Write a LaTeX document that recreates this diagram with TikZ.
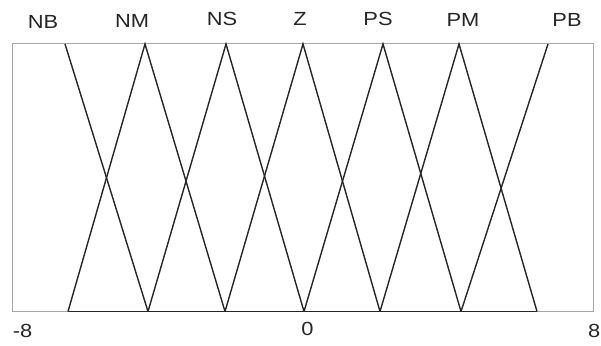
\documentclass[tikz,border=0pt]{standalone}
\usepackage{fontspec}
\usepackage{graphicx}
\setmainfont{Liberation Sans}
\tikzset{
  lab/.style={inner sep=0pt, font=\fontsize{19}{19}\selectfont, text=black!85},
  mf/.style={line width=1.4pt, draw=black!85, line join=miter},
  frame/.style={line width=1pt, draw=black!35}
}
\newcommand{\widetxt}[1]{\scalebox{1.15}[1]{#1}}
\begin{document}
\begin{tikzpicture}[x=1pt,y=1pt]
\useasboundingbox[fill=white] (0,0) rectangle (601,345);
% frame
\coordinate (bl) at (12,33.5);
\coordinate (tr) at (593,301);
\draw[frame] (bl) rectangle (tr);
% bottom vertices
\coordinate (b1) at (68,33.5);
\coordinate (b2) at (148,33.5);
\coordinate (b3) at (225,33.5);
\coordinate (b4) at (304,33.5);
\coordinate (b5) at (380,33.5);
\coordinate (b6) at (461,33.5);
\coordinate (b7) at (537,33.5);
% top vertices
\coordinate (t1) at (65,301);
\coordinate (t2) at (145,301);
\coordinate (t3) at (226,301);
\coordinate (t4) at (303,301);
\coordinate (t5) at (383,301);
\coordinate (t6) at (459,301);
\coordinate (t7) at (548,301);
% baseline
\draw[mf] (b1) -- (b7);
% membership functions
\draw[mf] (t1) -- (b2);
\draw[mf] (b1) -- (t2) -- (b3);
\draw[mf] (b2) -- (t3) -- (b4);
\draw[mf] (b3) -- (t4) -- (b5);
\draw[mf] (b4) -- (t5) -- (b6);
\draw[mf] (b5) -- (t6) -- (b7);
\draw[mf] (b6) -- (t7);
% labels
\node[lab] (NB) at (43,323) {\widetxt{NB}};
\node[lab] (NM) at (132,324) {\widetxt{NM}};
\node[lab] (NS) at (222,326) {\widetxt{NS}};
\node[lab] (Z) at (300,326) {\widetxt{Z}};
\node[lab] (PS) at (378,326) {\widetxt{PS}};
\node[lab] (PM) at (463,325) {\widetxt{PM}};
\node[lab] (PB) at (567,325) {\widetxt{PB}};
\node[lab] (m8) at (22.5,14.5) {\widetxt{-8}};
\node[lab] (z0) at (307.5,16) {\widetxt{0}};
\node[lab, anchor=east] (p8) at (600.5,14.5) {\widetxt{8}};
\end{tikzpicture}
\end{document}
